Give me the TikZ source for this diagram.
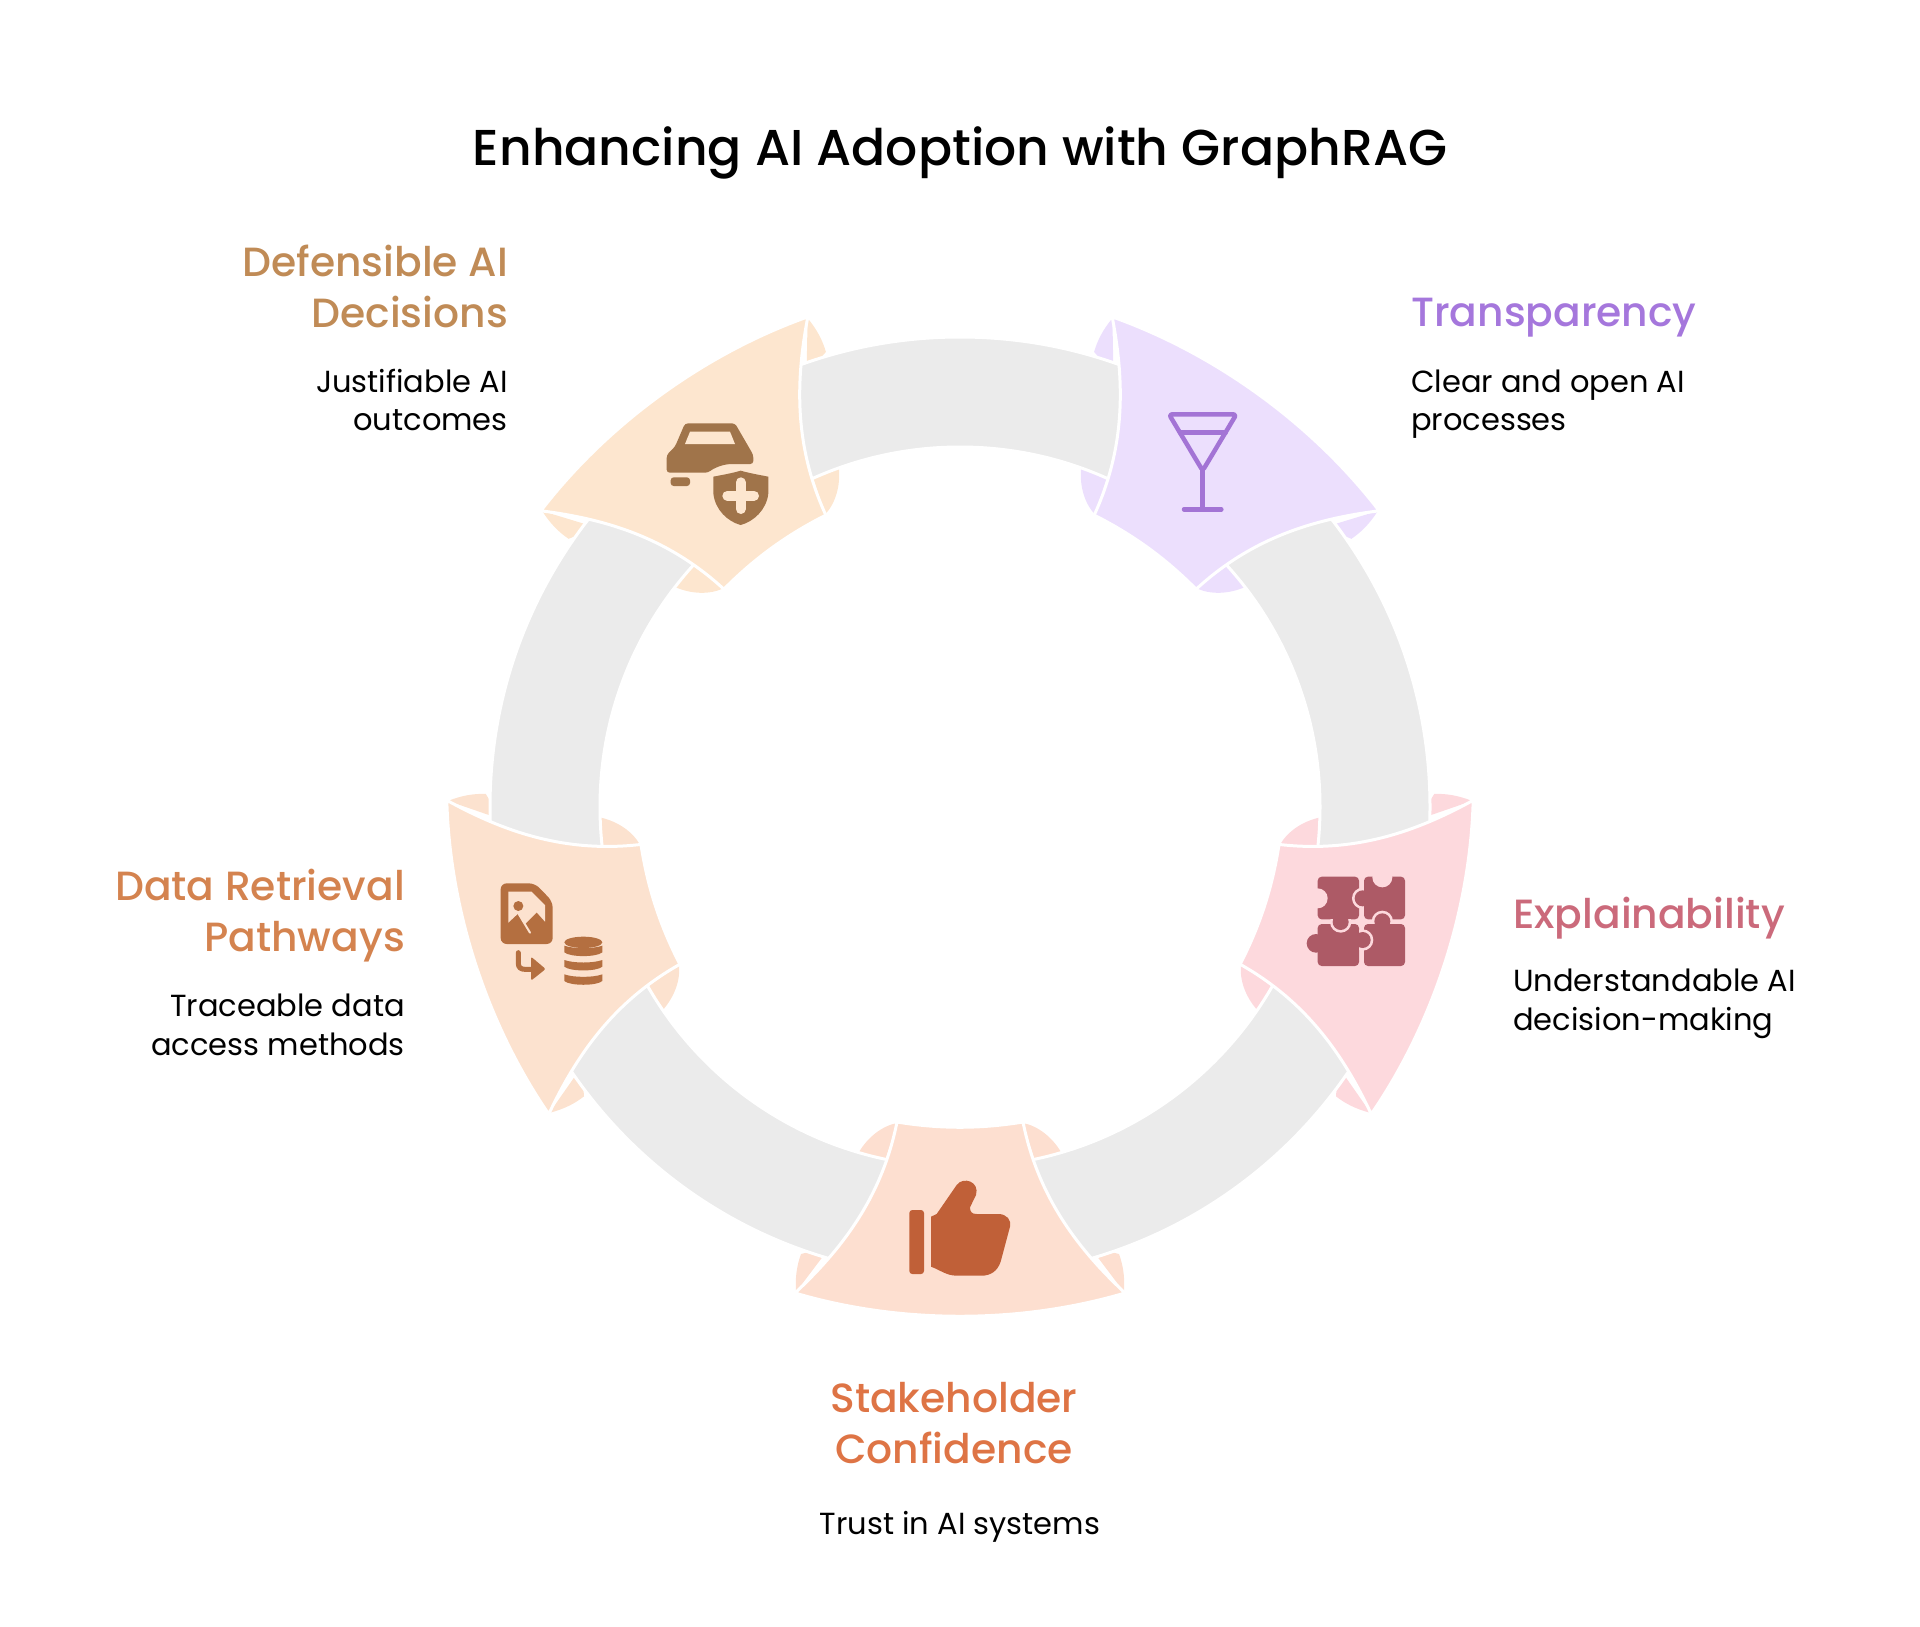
\documentclass[tikz,border=0pt]{standalone}
\usepackage{fontspec}
\usetikzlibrary{positioning}
\setmainfont{Poppins}
\newfontfamily\headfont{Poppins Medium}
\definecolor{ringgray}{HTML}{EBEBEB}
\definecolor{stakefill}{HTML}{FDDFD0}
\definecolor{datafill}{HTML}{FCE2CF}
\definecolor{defendfill}{HTML}{FDE6CF}
\definecolor{transfill}{HTML}{ECDFFD}
\definecolor{explainfill}{HTML}{FDD9DD}
\definecolor{stakeink}{HTML}{C06038}
\definecolor{dataink}{HTML}{B46F40}
\definecolor{defendink}{HTML}{A0744A}
\definecolor{transink}{HTML}{A374D5}
\definecolor{explainink}{HTML}{AD5A66}
\definecolor{staketext}{HTML}{DE7445}
\definecolor{datatext}{HTML}{D4834F}
\definecolor{defendtext}{HTML}{C08B56}
\definecolor{transtext}{HTML}{A577DC}
\definecolor{explaintext}{HTML}{CB6A7B}
\tikzset{
  headline/.style={font=\headfont\fontsize{40.8}{51}\selectfont, inner sep=0pt, align=#1},
  headline/.default=left,
  caption/.style={font=\fontsize{30.5}{38.5}\selectfont, inner sep=0pt, align=#1, text=black},
  caption/.default=left,
}
\begin{document}
\begin{tikzpicture}[x=1pt,y=-1pt]
  \useasboundingbox (0,0) rectangle (1920,1626);

  % flaps behind the ring
  \foreach \ang/\col in {0/stakefill,-72/datafill,-144/defendfill,-216/transfill,-288/explainfill}{
    \begin{scope}[shift={(960,807)},rotate=\ang]
      \foreach \s in {1,-1}{
        \fill[\col] (\s*63,316) .. controls (\s*78,319) and (\s*92,330) .. (\s*101,345) -- (\s*80,370) -- cycle;
        \fill[\col] (\s*130,440) -- (\s*159,447) .. controls (\s*163,458) and (\s*165,470) .. (\s*164,485) -- cycle;
      };
    \end{scope}
  };

  % ring
  \draw[ringgray, fill=ringgray, even odd rule, draw=white, line width=3pt]
    (960,807) circle (470) (960,807) circle (360);

  % petals
  \foreach \ang/\col in {0/stakefill,-72/datafill,-144/defendfill,-216/transfill,-288/explainfill}{
    \begin{scope}[shift={(960,807)},rotate=\ang]
      \draw[white, fill=\col, line width=3pt]
        (-63,315) .. controls (-20,322) and (20,322) .. (63,315)
        .. controls (78,390) and (118,442) .. (165,486)
        .. controls (60,517) and (-60,517) .. (-165,486)
        .. controls (-118,442) and (-78,390) .. (-63,315) -- cycle;
    \end{scope}
  };

  % car and shield
  \begin{scope}[shift={(500,280)},scale=1/3]
    \fill[defendink, rounded corners=3pt] (555,430) -- (705,430) -- (760,525) -- (760,552) -- (690,552)
      .. controls (665,555) and (640,565) .. (625,578) -- (500,578) -- (500,525) -- (525,500) -- cycle;
    \fill[defendfill] (570,455) -- (690,455) -- (705,492) -- (555,492) -- cycle;
    \fill[defendink, rounded corners=3pt] (512,592) -- (570,592) -- (570,618) -- (512,618) -- cycle;
    \fill[defendink] (722,572) .. controls (750,580) and (780,585) .. (805,590) -- (805,640)
      .. controls (800,690) and (760,725) .. (722,735) .. controls (684,725) and (645,690) .. (640,640)
      -- (640,590) .. controls (665,585) and (695,580) .. (722,572) -- cycle;
    \draw[defendfill, line width=10pt, line cap=round] (682,647) -- (762,647) (722,607) -- (722,687);
  \end{scope}

  % glass
  \begin{scope}[shift={(1060,280)},scale=1/3]
    \draw[transink, line width=4.5pt, line join=round, rounded corners=3pt]
      (327,403) -- (529,403) -- (428,572) -- cycle;
    \draw[transink, line width=4.5pt, line cap=round] (360,458) -- (497,458) (428,572) -- (428,688) (372,688) -- (484,688);
  \end{scope}

  % puzzle
  \begin{scope}[shift={(1220,770)},scale=1/3]
    \fill[explainink, rounded corners=4pt] (293,320) rectangle (417,448);
    \fill[explainfill] (293,385) circle (30);
    \fill[explainfill] (428,385) circle (32);
    \fill[explainink, rounded corners=4pt] (432,320) rectangle (555,448);
    \fill[explainink] (428,385) circle (24);
    \fill[explainfill] (487,322) circle (30);
    \fill[explainfill] (487,454) circle (32);
    \fill[explainink, rounded corners=4pt] (293,462) rectangle (417,588);
    \begin{scope}
      \clip (280,448) rectangle (430,600);
      \fill[explainfill] (362,456) circle (32);
    \end{scope}
    \fill[explainink] (362,456) circle (24);
    \fill[explainink] (288,520) circle (28);
    \fill[explainink, rounded corners=4pt] (432,462) rectangle (555,588);
    \begin{scope}
      \clip (417,450) rectangle (560,600);
      \fill[explainfill] (428,510) circle (32);
    \end{scope}
    \fill[explainink] (428,510) circle (24);
    \fill[explainink] (487,454) circle (24);
  \end{scope}

  % thumb
  \begin{scope}[shift={(780,1100)},scale=1/3]
    \fill[stakeink, rounded corners=3pt] (388,330) rectangle (432,522);
    \fill[stakeink] (453,350) -- (470,342) -- (530,255) .. controls (550,228) and (600,245) .. (588,285)
      -- (570,322) .. controls (570,335) and (575,342) .. (590,342) -- (655,342)
      .. controls (680,342) and (695,360) .. (690,380) -- (662,485) .. controls (652,515) and (630,527) .. (605,527)
      -- (530,527) .. controls (500,527) and (480,510) .. (453,500) -- cycle;
  \end{scope}

  % document, arrow, database
  \begin{scope}[shift={(430,780)},scale=1/3]
    \fill[dataink, rounded corners=6pt] (212,310) -- (315,310) -- (368,365) -- (368,492) -- (212,492) -- cycle;
    \fill[datafill] (235,335) -- (305,335) -- (345,375) -- (345,425) -- (320,397) -- (285,432) -- (265,400) -- (235,428) -- cycle;
    \draw[datafill, line width=2pt, line cap=round] (265,400) -- (300,458);
    \fill[dataink] (265,378) circle (15);
    \draw[dataink, line width=5pt, line cap=round] (265,518) -- (265,550) .. controls (265,562) and (272,568) .. (285,568) -- (310,568);
    \fill[dataink, rounded corners=2pt] (303,530) -- (347,567) -- (303,602) -- cycle;
    \fill[dataink] (460,487) ellipse (57 and 17);
    \foreach \y in {497,540,583}{
      \fill[dataink] (403,\y) .. controls (430,\y+10) and (490,\y+10) .. (517,\y) -- (517,\y+20)
        .. controls (500,\y+35) and (420,\y+35) .. (403,\y+20) -- cycle;
    };
  \end{scope}

  % texts
  \node[font=\headfont\fontsize{50.4}{60}\selectfont, inner sep=0pt] (heading) at (960,153) {Enhancing AI Adoption with GraphRAG};

  \node[headline=right, text=defendtext, anchor=east] (defendhead) at (508,286) {Defensible AI\\Decisions};
  \node[caption=right, anchor=east] (defendtxt) at (508,400) {Justifiable AI\\outcomes};

  \node[headline, text=transtext, anchor=west] (transhead) at (1411,318) {Transparency};
  \node[caption, anchor=west] (transtxt) at (1411,404) {Clear and open AI\\processes};

  \node[headline, text=explaintext, anchor=west] (explainhead) at (1513,918) {Explainability};
  \node[caption, anchor=west] (explaintxt) at (1513,1004) {Understandable AI\\decision-making};

  \node[headline=center, text=staketext] (stakehead) at (954,1423) {Stakeholder\\Confidence};
  \node[caption=center] (staketxt) at (960,1527) {Trust in AI systems};

  \node[headline=right, text=datatext, anchor=east] (datahead) at (405,916) {Data Retrieval\\Pathways};
  \node[caption=right, anchor=east] (datatxt) at (405,1025) {Traceable data\\access methods};
\end{tikzpicture}
\end{document}
